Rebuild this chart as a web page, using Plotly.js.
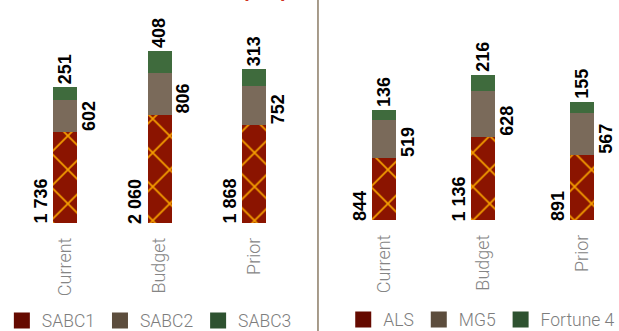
<!DOCTYPE html>
<html>
<head>
<meta charset="utf-8">
<script src="https://cdn.plot.ly/plotly-3.0.1.min.js"></script>
<style>
  html, body { margin: 0; padding: 0; background: #ffffff; }
  #chart { width: 619px; height: 331px; }
</style>
</head>
<body>
<div id="chart"></div>
<script>
// Periods shown on both panels
const categories = ['Current', 'Budget', 'Prior'];

// Left panel: channels
const channelNames = ['SABC1', 'SABC2', 'SABC3'];
const sabc1 = [1736, 2060, 1868];
const sabc2 = [602, 806, 752];
const sabc3 = [251, 408, 313];

// Right panel: brands
const brandNames = ['ALS', 'MG5', 'Fortune 4'];
const als = [844, 1136, 891];
const mg5 = [519, 628, 567];
const fortune4 = [136, 216, 155];

const unitLabel = '(Rm)';

// Styling
const barColors = ['#8B1400', '#7A6A5A', '#3F6B3D'];
const legendColors = ['#650A00', '#5C4D3D', '#2E5230'];
const accent = '#F5A000';
const lightFont = { family: 'Roboto, Lato, sans-serif', size: 18, color: '#858585', weight: 300 };
const legendFont = Object.assign({}, lightFont, { size: 17.5, color: '#7d7d7d' });
const valueFont = { family: '"Liberation Sans Narrow", "Arial Narrow", "Liberation Sans", sans-serif', size: 18, color: '#000000', weight: 'bold' };

function fmt(n) {
  return String(n).replace(/\B(?=(\d{3})+(?!\d))/g, ' ');
}

function stackTraces(series, names, xa, ya, width) {
  return series.map((vals, i) => {
    const t = {
      type: 'bar', x: categories, y: vals, name: names[i],
      xaxis: xa, yaxis: ya, width: width, showlegend: false,
      hoverinfo: 'skip',
      marker: { color: barColors[i], line: { width: 0 } }
    };
    if (i === 0) {
      // base segment carries the orange lattice motif
      t.marker.pattern = { shape: 'x', fgcolor: accent, bgcolor: barColors[0], fillmode: 'replace', size: 24, solidity: 0.14 };
    }
    return t;
  });
}

// Solid swatches for the legends
function legendProxies(names, xa, ya, legendId) {
  return names.map((n, i) => ({
    type: 'scatter', mode: 'markers', x: [null], y: [null], name: n,
    xaxis: xa, yaxis: ya, legend: legendId, hoverinfo: 'skip',
    marker: { symbol: 'square', size: 16, color: legendColors[i], line: { width: 0 } }
  }));
}

// Rotated value labels: base value left of the bar, middle value right of it, top value above
function valueLabels(s1, s2, s3, xa, ya) {
  const out = [];
  categories.forEach((c, k) => {
    const base = { xref: xa, yref: ya, x: c, showarrow: false, textangle: -90, font: valueFont, borderpad: 0, borderwidth: 0 };
    out.push(Object.assign({}, base, { y: 0, text: fmt(s1[k]), xanchor: 'right', yanchor: 'bottom', xshift: -14, yshift: -1 }));
    out.push(Object.assign({}, base, { y: s1[k], text: fmt(s2[k]), xanchor: 'left', yanchor: 'bottom', xshift: 14, yshift: 1 }));
    out.push(Object.assign({}, base, { y: s1[k] + s2[k] + s3[k], text: fmt(s3[k]), xanchor: 'center', yanchor: 'bottom', yshift: 3 }));
  });
  return out;
}

const data = [].concat(
  stackTraces([sabc1, sabc2, sabc3], channelNames, 'x', 'y', 0.254),
  stackTraces([als, mg5, fortune4], brandNames, 'x2', 'y2', 0.242),
  legendProxies(channelNames, 'x', 'y', 'legend'),
  legendProxies(brandNames, 'x2', 'y2', 'legend2')
);

const hiddenY = { showgrid: false, zeroline: false, showline: false, showticklabels: false, ticks: '', fixedrange: true };
const catX = { type: 'category', showgrid: false, zeroline: false, showline: false, ticks: '', tickangle: -90, tickfont: lightFont, ticklabelstandoff: 10, fixedrange: true };

const legendBase = { orientation: 'h', xanchor: 'left', yanchor: 'middle', font: legendFont, bgcolor: 'rgba(0,0,0,0)', itemsizing: 'trace', traceorder: 'normal', itemclick: false, itemdoubleclick: false };

const layout = {
  width: 619, height: 331,
  margin: { l: 0, r: 0, t: 0, b: 0, pad: 0, autoexpand: false },
  paper_bgcolor: '#ffffff', plot_bgcolor: 'rgba(0,0,0,0)',
  barmode: 'stack', bargap: 0,
  showlegend: true,
  xaxis: Object.assign({}, catX, { domain: [0, 0.5008], range: [-0.688, 2.592] }),
  yaxis: Object.assign({}, hiddenY, { domain: [0.3263, 1], range: [0, 4256] }),
  xaxis2: Object.assign({}, catX, { domain: [0.517, 1], range: [-0.646, 2.374], anchor: 'y2' }),
  yaxis2: Object.assign({}, hiddenY, { domain: [0.3353, 1], range: [0, 3001], anchor: 'x2' }),
  legend: Object.assign({}, legendBase, { x: 0.003, y: 0.031 }),
  legend2: Object.assign({}, legendBase, { x: 0.5545, y: 0.034 }),
  shapes: [
    { type: 'line', xref: 'paper', yref: 'paper', x0: 0.5137, x1: 0.5137, y0: 0, y1: 1, line: { color: '#8B7B65', width: 1.5 } }
  ],
  annotations: [].concat(
    valueLabels(sabc1, sabc2, sabc3, 'x', 'y'),
    valueLabels(als, mg5, fortune4, 'x2', 'y2'),
    [{ xref: 'paper', yref: 'paper', x: 0.428, y: 1, xanchor: 'center', yanchor: 'bottom', yshift: -3, showarrow: false, text: unitLabel, font: { family: 'Liberation Sans, sans-serif', size: 20, color: '#D03020', weight: 'bold' } }]
  )
};

Plotly.newPlot('chart', data, layout, { staticPlot: true, displayModeBar: false });
</script>
</body>
</html>
